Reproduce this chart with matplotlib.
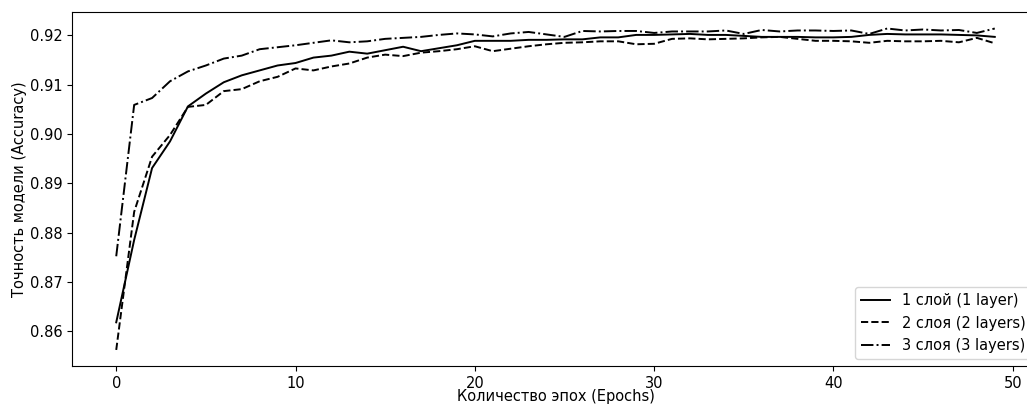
import numpy as np
import matplotlib.pyplot as plt

epochs = list(range(50))

acc_1 = [0.8618, 0.8785, 0.8931, 0.8985, 0.9056, 0.9082, 0.9105, 0.9119, 0.9129, 0.9139,
         0.9144, 0.9155, 0.9159, 0.9167, 0.9163, 0.9170, 0.9177, 0.9168, 0.9174, 0.9180,
         0.9189, 0.9189, 0.9189, 0.9191, 0.9191, 0.9192, 0.9192, 0.9196, 0.9196, 0.9201,
         0.9201, 0.9202, 0.9203, 0.9201, 0.9201, 0.9199, 0.9197, 0.9197, 0.9197, 0.9196,
         0.9196, 0.9197, 0.9201, 0.9203, 0.9202, 0.9202, 0.9202, 0.9201, 0.9200, 0.9197]

acc_2 = [0.8562, 0.8842, 0.8954, 0.8998, 0.9055, 0.9059, 0.9087, 0.9091, 0.9107, 0.9116,
         0.9133, 0.9129, 0.9137, 0.9143, 0.9155, 0.9161, 0.9158, 0.9165, 0.9168, 0.9172,
         0.9178, 0.9168, 0.9173, 0.9178, 0.9182, 0.9185, 0.9186, 0.9188, 0.9188, 0.9182,
         0.9183, 0.9193, 0.9194, 0.9192, 0.9193, 0.9194, 0.9196, 0.9197, 0.9193, 0.9189,
         0.9189, 0.9188, 0.9185, 0.9189, 0.9188, 0.9188, 0.9189, 0.9186, 0.9195, 0.9184]

acc_3 = [0.8752, 0.9059, 0.9073, 0.9107, 0.9127, 0.9139, 0.9153, 0.9159, 0.9172, 0.9176,
         0.9180, 0.9185, 0.9190, 0.9186, 0.9188, 0.9193, 0.9195, 0.9197, 0.9201, 0.9204,
         0.9202, 0.9198, 0.9204, 0.9207, 0.9202, 0.9197, 0.9209, 0.9208, 0.9209, 0.9209,
         0.9205, 0.9208, 0.9208, 0.9208, 0.9210, 0.9203, 0.9211, 0.9208, 0.9210, 0.9210,
         0.9209, 0.9210, 0.9203, 0.9214, 0.9210, 0.9212, 0.9210, 0.9211, 0.9205, 0.9214]

labels = ['1 слой (1 layer)', '2 слоя (2 layers)', '3 слоя (3 layers)']

fig = plt.figure(figsize=(10.27, 4.05), dpi=100)
# axes run past the right edge, as in the cropped original
ax = fig.add_axes([0.0704, 0.0963, 0.941, 0.873])

ax.plot(epochs, acc_1, color='black', linestyle='-', linewidth=1.4, label=labels[0])
ax.plot(epochs, acc_2, color='black', linestyle='--', linewidth=1.4, label=labels[1])
ax.plot(epochs, acc_3, color='black', linestyle='-.', linewidth=1.4, label=labels[2])

ax.set_xticks([0, 10, 20, 30, 40, 50])
ax.set_yticks([0.86, 0.87, 0.88, 0.89, 0.90, 0.91, 0.92])
ax.set_yticklabels(['0.86', '0.87', '0.88', '0.89', '0.90', '0.91', '0.92'])
ax.tick_params(labelsize=10.5)

ax.set_xlabel('Количество эпох (Epochs)', fontsize=10.5, labelpad=-1)
ax.set_ylabel('Точность модели (Accuracy)', fontsize=10.5, labelpad=2)
ax.legend(loc='lower right', fontsize=10.5)

plt.savefig('out.png', dpi=100)
